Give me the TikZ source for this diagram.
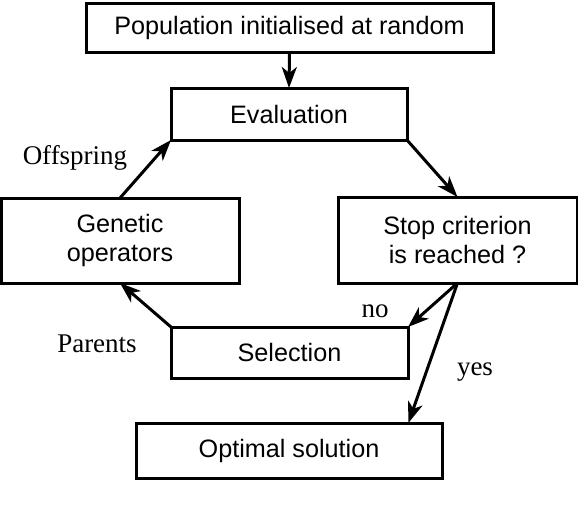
\documentclass[tikz,border=0pt]{standalone}
\usepackage{fontspec}
\setmainfont{Liberation Serif}
\newfontfamily\boxfont{Liberation Sans}
\usetikzlibrary{arrows.meta,calc}
\begin{document}
\begin{tikzpicture}[x=1pt,y=-1pt,
  flowbox/.style={draw=black,line width=3pt,rectangle,inner sep=0pt,outer sep=0pt,
    font=\boxfont\fontsize{25.2}{29}\selectfont,align=center},
  flowarrow/.style={line width=3pt,-{Stealth[length=21pt,width=15pt,inset=6pt]}},
  lbl/.style={font=\fontsize{27}{30}\selectfont,inner sep=0pt}]
\useasboundingbox (0,0) rectangle (578,512);
\fill[white] (0,0) rectangle (578,512);
\node[flowbox,minimum width=407pt,minimum height=49pt] (top) at (289.5,27.5) {Population initialised at random};
\node[flowbox,minimum width=236pt,minimum height=52pt] (eval) at (289,114) {Evaluation};
\node[flowbox,minimum width=238pt,minimum height=85pt] (gen) at (120,240.5) {Genetic\\operators};
\node[flowbox,minimum width=239pt,minimum height=86pt] (stop) at (457.5,240) {Stop criterion\\is reached ?};
\node[flowbox,minimum width=237pt,minimum height=51pt] (sel) at (289.5,352.5) {Selection};
\node[flowbox,minimum width=306pt,minimum height=55pt] (opt) at (289,450.5) {Optimal solution};
\coordinate (optin) at ($(opt.north west)!0.89!(opt.north east)$);
\draw[flowarrow] (top.south) -- (eval.north);
\draw[flowarrow] (gen.north) -- (eval.south west);
\draw[flowarrow] (eval.south east) -- (stop.north);
\draw[flowarrow] (stop.south) -- (sel.north east);
\draw[flowarrow] (stop.south) -- (optin);
\draw[flowarrow] (sel.north west) -- (gen.south);
\node[lbl] (loff) at (75,158) {Offspring};
\node[lbl] (lpar) at (97,344) {Parents};
\node[lbl] (lno) at (375,311) {no};
\node[lbl] (lyes) at (475,372) {yes};
\end{tikzpicture}
\end{document}
